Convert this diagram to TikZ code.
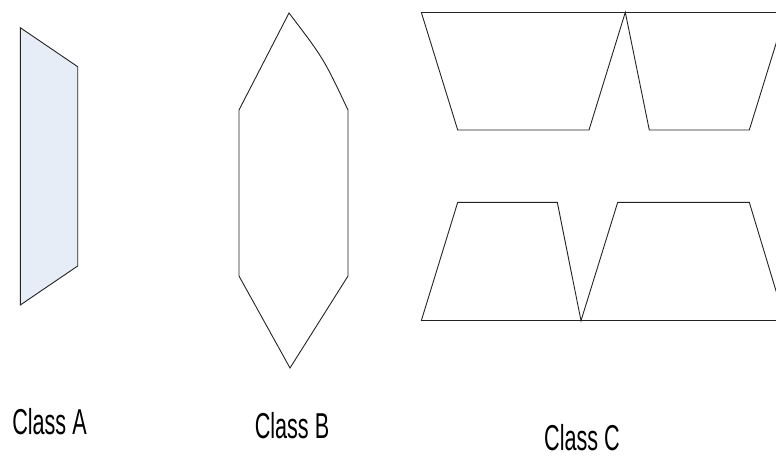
\documentclass[tikz,border=0pt]{standalone}
\usepackage{fontspec}
\setmainfont{Liberation Sans}
\definecolor{paleblue}{RGB}{230,237,247}
\definecolor{edge}{RGB}{35,35,35}
\begin{document}
\begin{tikzpicture}[x=1pt,y=-1pt,
  shape line/.style={draw=edge,line width=0.9pt,line join=miter},
  classlabel/.style={font=\fontsize{36}{40}\selectfont,inner sep=0pt,xscale=0.6,anchor=center}]
\useasboundingbox (0,0) rectangle (776,456);
% Class A
\fill[paleblue] (20.3,27.7) -- (77.7,66.7) -- (77.7,266) -- (20.3,305) -- cycle;
\draw[shape line] (20.3,27.7) -- (77.7,66.7) -- (77.7,266) -- (20.3,305) -- cycle;
% Class B
\draw[shape line] (289,13) .. controls (323.6,58.4) .. (348,110) -- (348,276) -- (290,368) -- (239,276) -- (239,110) -- cycle;
% Class C (top row)
\begin{scope}
\clip (0,0) rectangle (776,456);
\draw[shape line] (421.3,12.3) -- (785,12.3);
\draw[shape line] (421.3,12.3) -- (457.7,130) -- (589,130) -- (625.3,12.3) -- (649.3,130) -- (749.3,130) -- (785.7,12.3);
% Class C (bottom row)
\draw[shape line] (421.3,320.7) -- (785,320.7);
\draw[shape line] (421.3,320.7) -- (457.7,202.3) -- (557.3,202.3) -- (581,320.7) -- (617.7,202.3) -- (749.3,202.3) -- (785,320.7);
\end{scope}
% labels
\node[classlabel] (la) at (49.5,422) {Class A};
\node[classlabel] (lb) at (292,426) {Class B};
\node[classlabel] (lc) at (582,437.5) {Class C};
\end{tikzpicture}
\end{document}
